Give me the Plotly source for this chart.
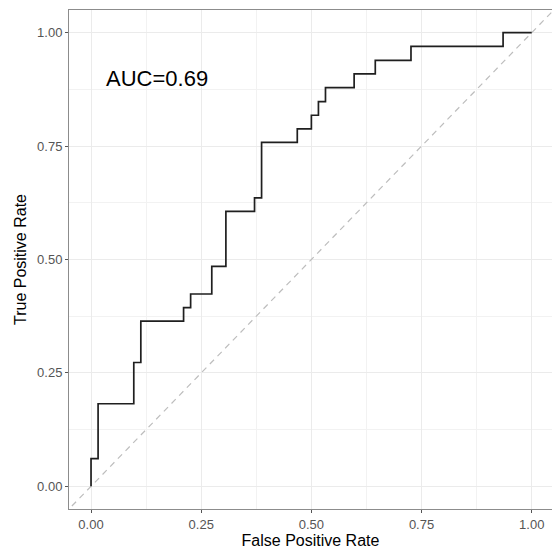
import plotly.graph_objects as go

# ROC curve corner points
fpr = [0.000, 0.000, 0.016, 0.016, 0.097, 0.097, 0.113, 0.113, 0.210, 0.210,
       0.226, 0.226, 0.274, 0.274, 0.306, 0.306, 0.371, 0.371, 0.387, 0.387,
       0.468, 0.468, 0.500, 0.500, 0.516, 0.516, 0.532, 0.532, 0.597, 0.597,
       0.645, 0.645, 0.726, 0.726, 0.935, 0.935, 1.000]
tpr = [0.000, 0.061, 0.061, 0.182, 0.182, 0.273, 0.273, 0.364, 0.364, 0.394,
       0.394, 0.424, 0.424, 0.485, 0.485, 0.606, 0.606, 0.636, 0.636, 0.758,
       0.758, 0.788, 0.788, 0.818, 0.818, 0.848, 0.848, 0.879, 0.879, 0.909,
       0.909, 0.939, 0.939, 0.970, 0.970, 1.000, 1.000]

diag = [-0.2, 1.2]
tick_vals = [0.0, 0.25, 0.5, 0.75, 1.0]
tick_text = ["0.00", "0.25", "0.50", "0.75", "1.00"]
auc_label = "AUC=0.69"
auc_pos = (0.15, 0.90)

FONT = "Liberation Sans, Arial, Helvetica, sans-serif"

fig = go.Figure()
fig.add_trace(go.Scatter(x=diag, y=diag, mode="lines",
                         line=dict(color="#bdbdbd", width=1.2, dash="6px,5px"),
                         hoverinfo="skip", showlegend=False))
fig.add_trace(go.Scatter(x=fpr, y=tpr, mode="lines",
                         line=dict(color="#1f1f1f", width=1.7),
                         showlegend=False))

fig.add_annotation(x=auc_pos[0], y=auc_pos[1], xref="x", yref="y",
                   text=auc_label, showarrow=False,
                   font=dict(family=FONT, size=22, color="#000000"),
                   xanchor="center", yanchor="middle")

axis_common = dict(
    tickvals=tick_vals, ticktext=tick_text,
    ticks="outside", ticklen=3, tickwidth=1, tickcolor="#555555",
    tickfont=dict(family=FONT, size=13, color="#555555"),
    showgrid=True, gridcolor="#ebebeb", gridwidth=1.1,
    minor=dict(dtick=0.125, tick0=0.125, showgrid=True, gridcolor="#f2f2f2", gridwidth=0.6, ticks=""),
    showline=True, linecolor="#8c8c8c", linewidth=1, mirror=True,
    zeroline=False,
    title_font=dict(family=FONT, size=16, color="#000000"),
)

fig.update_xaxes(range=[-0.05, 1.046], title_text="False Positive Rate",
                 title_standoff=4, **axis_common)
fig.update_yaxes(range=[-0.05, 1.05], title_text="True Positive Rate",
                 title_standoff=6, **axis_common)

fig.update_layout(
    width=552, height=552,
    margin=dict(l=69, r=0, t=10, b=43),
    paper_bgcolor="#ffffff", plot_bgcolor="#ffffff",
    font=dict(family=FONT),
)

fig.write_html("out.html")
